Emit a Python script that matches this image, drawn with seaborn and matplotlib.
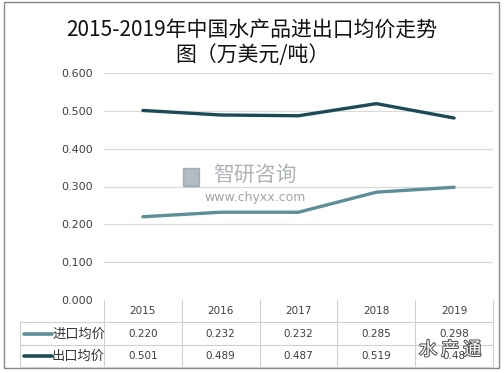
import matplotlib
matplotlib.use("Agg")
import matplotlib.pyplot as plt
import seaborn as sns
import pandas as pd
from matplotlib.lines import Line2D
from matplotlib.patches import Rectangle
import matplotlib.patheffects as pe

years = ["2015", "2016", "2017", "2018", "2019"]
import_price = [0.220, 0.232, 0.232, 0.285, 0.298]
export_price = [0.501, 0.489, 0.487, 0.519, 0.481]
export_labels = ["0.501", "0.489", "0.487", "0.519", "0.48"]
import_labels = ["0.220", "0.232", "0.232", "0.285", "0.298"]
series_names = ["进口均价", "出口均价"]
colors = ["#5E8E97", "#1C4B57"]
yticks = [0.0, 0.1, 0.2, 0.3, 0.4, 0.5, 0.6]
title = "2015-2019年中国水产品进出口均价走势\n图（万美元/吨）"

sns.set_theme(style="white")
plt.rcParams['font.family'] = ['Noto Sans CJK SC', 'DejaVu Sans']

df = pd.DataFrame({
    "year": years * 2,
    "x": list(range(len(years))) * 2,
    "value": import_price + export_price,
    "series": [series_names[0]] * len(years) + [series_names[1]] * len(years),
})

W, H = 504, 373
fig = plt.figure(figsize=(W / 100, H / 100), dpi=100)
fig.patch.set_facecolor("white")
ax = fig.add_axes([104 / W, 1 - 300 / H, (493 - 104) / W, (300 - 73) / H])

sns.lineplot(data=df, x="x", y="value", hue="series", palette=colors,
             linewidth=2.4, ax=ax, legend=False, sort=False)

ax.set_xlim(-0.5, len(years) - 0.5)
ax.set_ylim(0, 0.6)
ax.set_yticks(yticks)
ax.set_yticklabels([f"{v:.3f}" for v in yticks], fontsize=8, color="#404040",
                   family=['DejaVu Sans'])
ax.tick_params(axis="y", length=0, pad=8)
ax.set_xticks([])
ax.set_xlabel("")
ax.set_ylabel("")
ax.yaxis.grid(True, color="#D9D9D9", linewidth=0.9)
ax.set_axisbelow(True)
for s in ax.spines.values():
    s.set_visible(False)

# Title
fig.text(0.5, 1 - 19 / H, title, ha="center", va="top", fontsize=15,
         color="#111111", linespacing=1.2)

# Data table
grid_col = "#D0D0D0"
def px_x(x):
    return x / W
def px_y(y):
    return 1 - y / H

row_y = [311, 334, 356]
for i in range(len(years) + 1):
    xp = 104 + i * (493 - 104) / len(years)
    fig.add_artist(Line2D([px_x(xp)] * 2, [px_y(300), px_y(367)], color=grid_col, lw=0.8))
for yy, x0 in [(322, 20), (345, 20), (367, 20)]:
    fig.add_artist(Line2D([px_x(x0), px_x(493)], [px_y(yy)] * 2, color=grid_col, lw=0.8))
fig.add_artist(Line2D([px_x(20)] * 2, [px_y(322), px_y(367)], color=grid_col, lw=0.8))

for i, yr in enumerate(years):
    xc = 104 + (i + 0.5) * (493 - 104) / len(years)
    fig.text(px_x(xc), px_y(row_y[0]), yr, ha="center", va="center", fontsize=7.5,
             color="#404040", family=['DejaVu Sans'])
    fig.text(px_x(xc), px_y(row_y[1]), import_labels[i], ha="center", va="center",
             fontsize=7.5, color="#404040", family=['DejaVu Sans'])
    fig.text(px_x(xc), px_y(row_y[2]), export_labels[i], ha="center", va="center",
             fontsize=7.5, color="#404040", family=['DejaVu Sans'])

for k, name in enumerate(series_names):
    yy = row_y[k + 1]
    fig.add_artist(Line2D([px_x(24), px_x(52)], [px_y(yy)] * 2, color=colors[k], lw=2.6))
    fig.text(px_x(52), px_y(yy), name, ha="left", va="center", fontsize=9.5, color="#333333")

# Watermark
fig.text(px_x(255), px_y(175), "智研咨询", ha="center", va="center", fontsize=15,
         color="#9AA0A6", alpha=0.8)
fig.text(px_x(255), px_y(197), "www.chyxx.com", ha="center", va="center", fontsize=9,
         color="#8A8F94", alpha=0.8, family=['DejaVu Sans'])
fig.add_artist(Rectangle((px_x(183), px_y(186)), 16 / W, 18 / H, color="#7F8C9A", alpha=0.6))
fig.text(px_x(450), px_y(350), "水 产 通", ha="center", va="center", fontsize=13,
         color="white", path_effects=[pe.withStroke(linewidth=1.5, foreground="#555555")])

# Outer frame
fig.add_artist(Rectangle((px_x(4), px_y(368)), (499 - 4) / W, (368 - 2) / H,
                         fill=False, edgecolor="#888888", lw=1.0))

fig.savefig("out.png", dpi=100)
